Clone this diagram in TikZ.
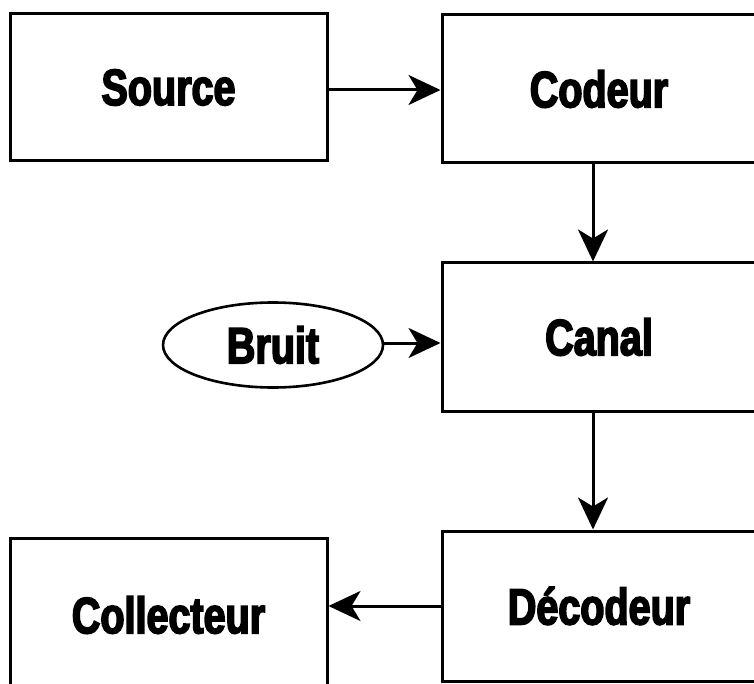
\documentclass[tikz,border=0pt]{standalone}
\usepackage{fontspec}
\setmainfont{Liberation Sans}[BoldFeatures={FakeStretch=0.775,FakeBold=3.2}]
\usetikzlibrary{arrows.meta,shapes.geometric}
\begin{document}
\begin{tikzpicture}[x=1pt,y=-1pt,
  box/.style={draw,line width=3pt,rectangle,inner sep=0pt,
    font=\fontsize{51}{51}\selectfont\bfseries},
  blob/.style={draw,line width=2.6pt,ellipse,inner sep=0pt,
    minimum width=220pt,minimum height=85pt,
    font=\fontsize{51}{51}\selectfont\bfseries},
  link/.style={line width=3pt,-{Stealth[length=32pt,width=30pt,inset=9pt]}}]
\useasboundingbox (0,0) rectangle (754,684);
\clip (0,0) rectangle (754,684);
\node[box,minimum width=317pt,minimum height=147pt] (src) at (168.5,87.5) {Source};
\node[box,minimum width=314pt,minimum height=148pt] (cod) at (599,89) {Codeur};
\node[box,minimum width=314pt,minimum height=148pt] (can) at (599,337) {Canal};
\node[blob] (bru) at (273,345) {Bruit};
\node[box,minimum width=314pt,minimum height=150pt] (dec) at (599,606) {Décodeur};
\node[box,minimum width=317pt,minimum height=154pt] (col) at (168.5,615) {Collecteur};
\draw[link] (src.east |- 0,90) -- (cod.west |- 0,90);
\draw[link] ([xshift=-6pt]cod.south) -- ([xshift=-6pt]can.north);
\draw[link] ([xshift=-6pt]can.south) -- ([xshift=-6pt]dec.north);
\draw[link] (bru.east |- 0,343) -- (can.west |- 0,343);
\draw[link] (dec.west) -- (dec.west -| col.east);
\end{tikzpicture}
\end{document}
